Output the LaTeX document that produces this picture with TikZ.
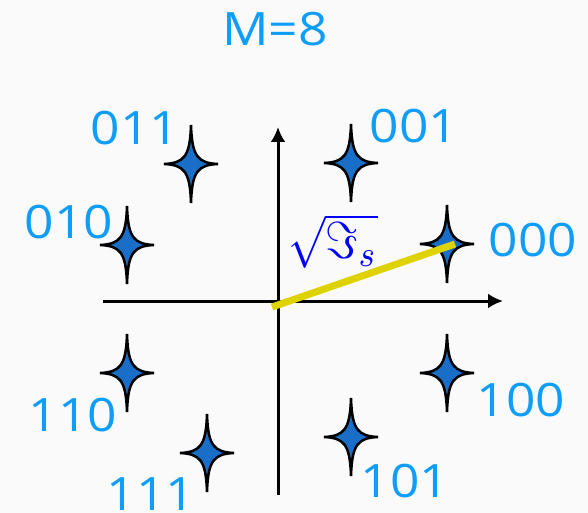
\documentclass[tikz,border=0pt]{standalone}
\usepackage{graphicx}
\usepackage{fontspec}
\setsansfont{Open Sans}[FakeStretch=1.12]
\usetikzlibrary{arrows.meta}
\definecolor{cbLabel}{RGB}{15,157,250}
\definecolor{cbStar}{RGB}{25,110,200}
\definecolor{cbLine}{RGB}{222,210,0}
\definecolor{cbRoot}{RGB}{0,0,255}
\definecolor{cbPaper}{RGB}{250,250,250}

\tikzset{
  constar/.pic={
    \filldraw[draw=black, fill=cbStar, line width=2.5pt]
      (0,-39) .. controls (1,-7) and (7,-1) .. (27,0)
      .. controls (7,1) and (1,7) .. (0,39)
      .. controls (-1,7) and (-7,1) .. (-27,0)
      .. controls (-7,-1) and (-1,-7) .. cycle;
  }
}

\begin{document}
\begin{tikzpicture}[x=1pt, y=-1pt, >={Latex[length=15pt,width=15pt]},
    bits/.style={font=\sffamily\fontsize{46}{48}\selectfont, text=cbLabel, inner sep=0pt},
    axis/.style={->, line width=3pt, black}]
  \fill[cbPaper] (0,0) rectangle (588,513);
  \useasboundingbox (0,0) rectangle (588,513);

  % axes
  \coordinate (xl) at (103,301);
  \coordinate (xr) at (503,301);
  \coordinate (yb) at (278,495);
  \coordinate (yt) at (278,127);
  \draw[axis] (xl) -- (xr);
  \draw[axis] (yb) -- (yt);

  % bit labels
  \node[bits] (title) at (275,29) {M=8};
  \node[bits] (l011) at (135,128) {011};
  \node[bits] (l001) at (414,126) {001};
  \node[bits] (l010) at (69,222) {010};
  \node[bits] (l000) at (533,240) {000};
  \node[bits] (l110) at (73,415) {110};
  \node[bits] (l100) at (521,400) {100};
  \node[bits] (l101) at (405,481) {101};
  \node[bits] (l111) at (151,494) {111};

  % constellation points
  \foreach \name/\px/\py in {011/191/164, 001/351/163, 010/127/245, 000/447/244,
                            110/127/373, 100/447/373, 101/351/437, 111/207/453} {
    \coordinate (s\name) at (\px,\py);
    \pic at (s\name) {constar};
  }

  % symbol energy
  \coordinate (e0) at (272,307);
  \coordinate (e1) at (455,244);
  \draw[cbLine, line width=7pt] (e0) -- (e1);
  \node[text=cbRoot, inner sep=0pt] (energy) at (333,241) {\scalebox{4.5}[5.2]{$\sqrt{\Im_s}$}};
\end{tikzpicture}
\end{document}
